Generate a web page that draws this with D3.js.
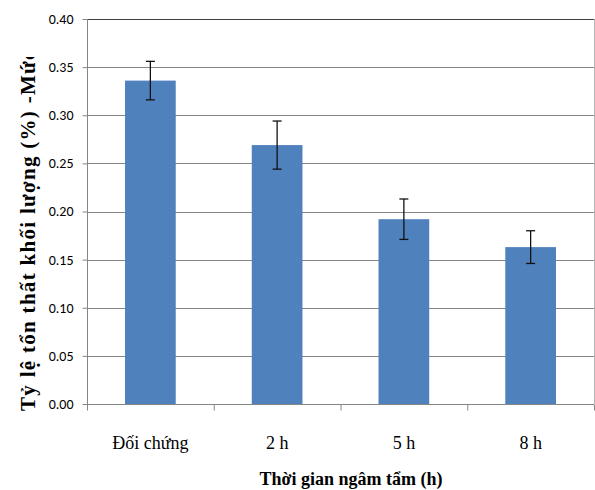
<!DOCTYPE html>
<html><head><meta charset="utf-8">
<script src="https://cdn.jsdelivr.net/npm/d3@7"></script>
<style>body{margin:0;background:#fff}svg{display:block}</style>
</head><body>
<svg id="c" width="595" height="490"></svg>
<script>
const categories = ["Đối chứng", "2 h", "5 h", "8 h"];
const values = [0.336, 0.269, 0.192, 0.163];
const errors = [0.020, 0.025, 0.021, 0.017];
const yTicks = [0, 0.05, 0.10, 0.15, 0.20, 0.25, 0.30, 0.35, 0.40];
const yTitle = "Tỷ lệ tổn thất khối lượng (%) -Mức";
const xTitle = "Thời gian ngâm tẩm (h)";

const svg = d3.select("#c");
const m = {l: 87, r: 594, t: 19, b: 404};
const x = d3.scaleBand().domain(categories).range([m.l, m.r]).paddingInner(0.6).paddingOuter(0.3);
const y = d3.scaleLinear().domain([0, 0.40]).range([m.b, m.t]);

// gridlines
svg.append("g").selectAll("line").data(yTicks.filter(d => d > 0)).join("line")
  .attr("x1", m.l).attr("x2", m.r)
  .attr("y1", d => Math.round(y(d)) + 0.5).attr("y2", d => Math.round(y(d)) + 0.5)
  .attr("stroke", d => d === 0.40 ? "#404040" : "#868686").attr("stroke-width", 1);

// right border
svg.append("line").attr("x1", m.r + 0.5).attr("x2", m.r + 0.5).attr("y1", m.t).attr("y2", m.b)
  .attr("stroke", "#b4b4b4");

// bars
svg.append("g").selectAll("rect").data(values).join("rect")
  .attr("x", (d, i) => x(categories[i])).attr("width", x.bandwidth())
  .attr("y", d => y(d)).attr("height", d => y(0) - y(d))
  .attr("fill", "#4F81BD");

// error bars
const eg = svg.append("g").attr("stroke", "#111").attr("stroke-width", 1.3);
values.forEach((v, i) => {
  const cx = x(categories[i]) + x.bandwidth() / 2;
  const y1 = y(v + errors[i]), y2 = y(v - errors[i]);
  eg.append("line").attr("x1", cx).attr("x2", cx).attr("y1", y1).attr("y2", y2);
  eg.append("line").attr("x1", cx - 4.5).attr("x2", cx + 4.5).attr("y1", y1).attr("y2", y1);
  eg.append("line").attr("x1", cx - 4.5).attr("x2", cx + 4.5).attr("y1", y2).attr("y2", y2);
});

// y axis
const ya = svg.append("g").attr("transform", `translate(${m.l + 0.5},0)`)
  .call(d3.axisLeft(y).tickValues(yTicks).tickFormat(d3.format(".2f")).tickSize(5).tickPadding(9));
ya.select(".domain").attr("stroke", "#868686").attr("d", `M0,${m.t}V${m.b}`);
ya.selectAll(".tick line").attr("stroke", "#868686");
ya.selectAll(".tick text").attr("font-family", "Carlito, 'Liberation Sans', Arial, sans-serif")
  .attr("font-size", 14).attr("fill", "#000");

// x axis
const xa = svg.append("g").attr("transform", `translate(0,${m.b + 0.5})`)
  .call(d3.axisBottom(x).tickSize(0).tickPadding(32));
xa.select(".domain").attr("stroke", "#868686").attr("d", `M${m.l},0H${m.r}`);
xa.selectAll(".tick text").attr("font-family", "'Liberation Serif', 'Times New Roman', serif")
  .attr("font-size", 18).attr("fill", "#000");
// category boundary ticks
const step = x.step();
xa.append("g").selectAll("line").data(d3.range(categories.length + 1)).join("line")
  .attr("x1", i => m.l + i * step + 0.5).attr("x2", i => m.l + i * step + 0.5)
  .attr("y1", 0).attr("y2", 6).attr("stroke", "#868686");

// axis titles
svg.append("defs").append("clipPath").attr("id", "yclip")
  .append("rect").attr("x", 0).attr("y", 57).attr("width", 60).attr("height", 400);
svg.append("g").attr("clip-path", "url(#yclip)")
  .append("text").attr("transform", "translate(35,411) rotate(-90)")
  .attr("text-anchor", "start")
  .attr("font-family", "'Liberation Serif', 'Times New Roman', serif")
  .attr("font-weight", "bold").attr("font-size", 21).attr("letter-spacing", 1.3).text(yTitle);

svg.append("text").attr("x", 351).attr("y", 485).attr("text-anchor", "middle")
  .attr("font-family", "'Liberation Serif', 'Times New Roman', serif")
  .attr("font-weight", "bold").attr("font-size", 18).text(xTitle);
</script>
</body></html>
